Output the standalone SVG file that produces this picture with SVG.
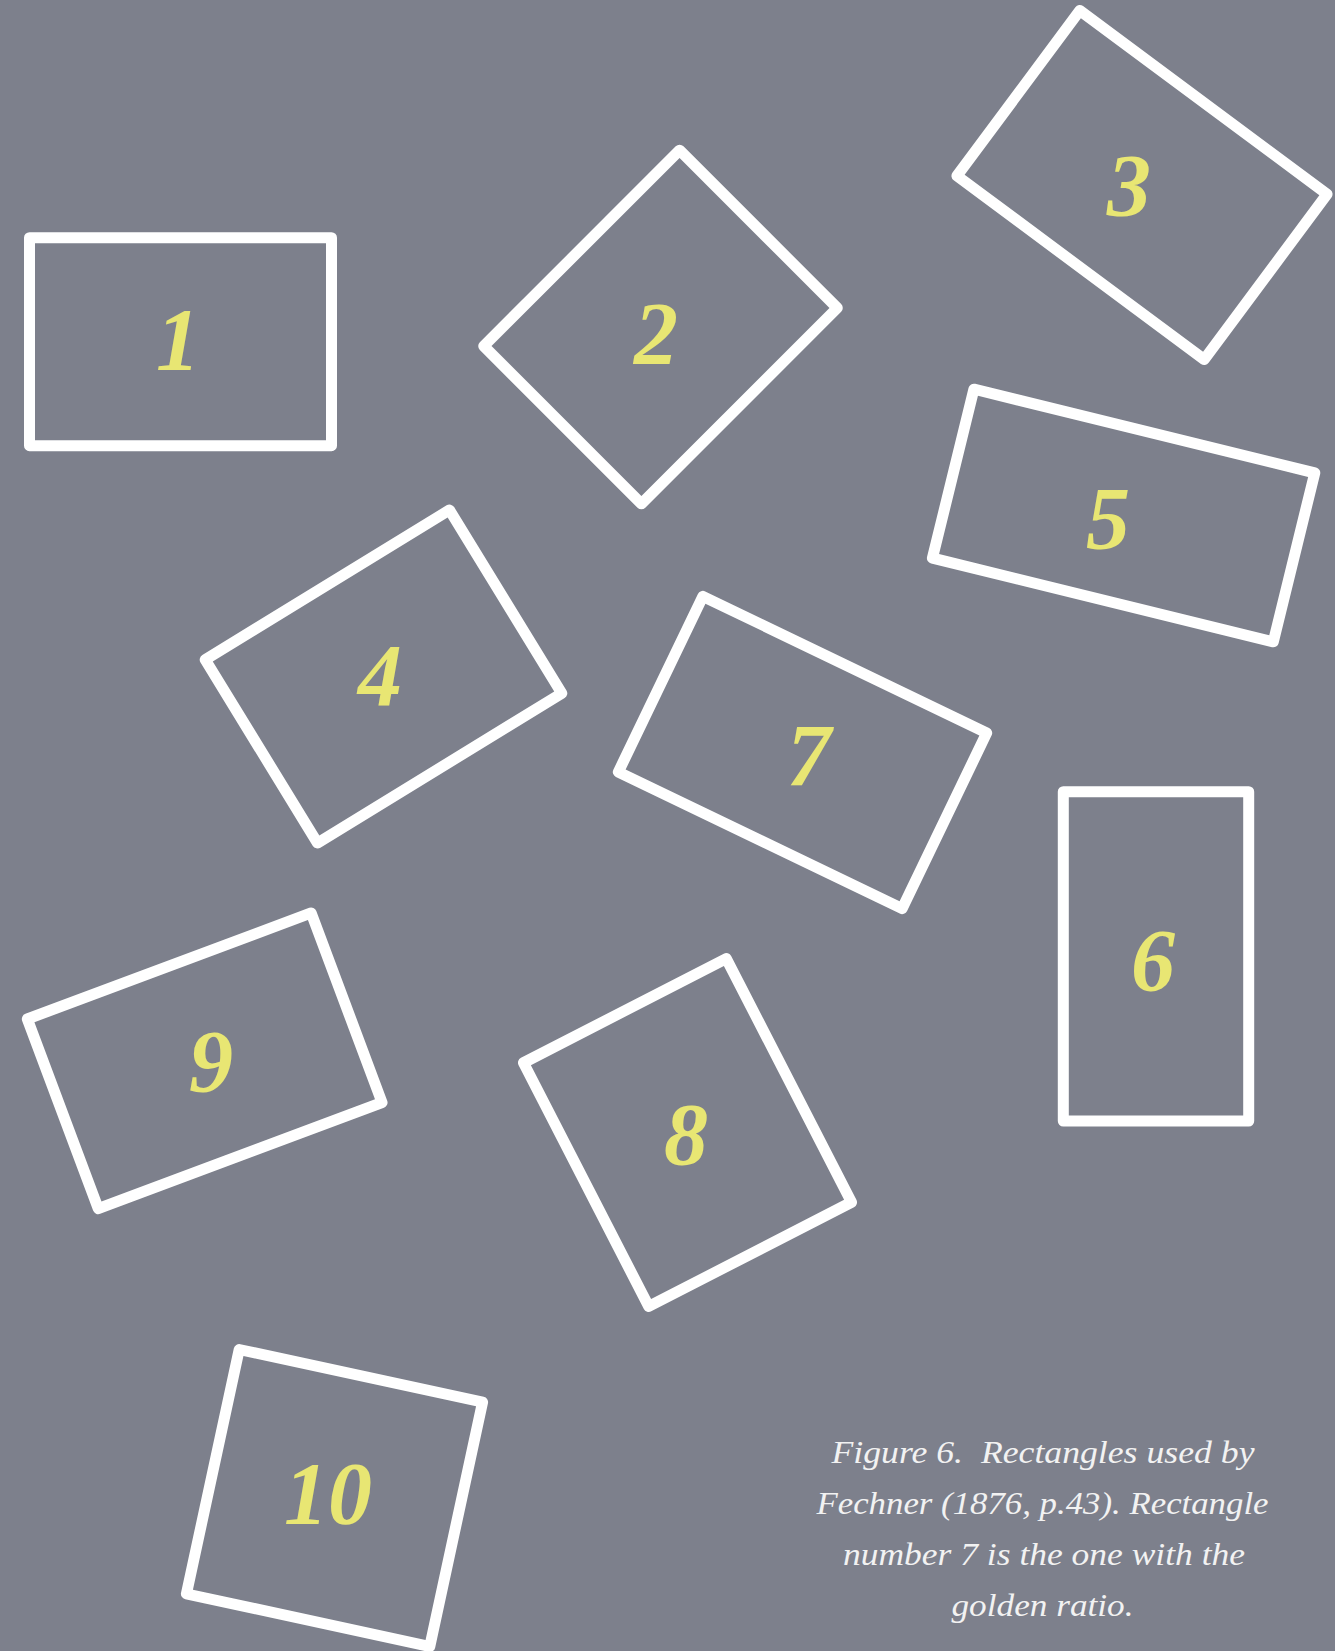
<svg xmlns="http://www.w3.org/2000/svg" width="1335" height="1651" viewBox="0 0 1335 1651">
<style>
.box{fill:none;stroke:#ffffff;stroke-width:11;stroke-linejoin:round}
.num{font-family:"Liberation Serif","Times New Roman",serif;font-weight:bold;font-style:italic;font-size:88px;fill:#e8e673;text-anchor:middle}
.cap{font-family:"Liberation Serif","Times New Roman",serif;font-style:italic;font-size:32px;fill:#f2f2f2;text-anchor:middle;white-space:pre}
</style>
<rect x="0" y="0" width="1335" height="1651" fill="#7d808c"/>
<g id="connectors"/>
<g id="node1">
<rect class="box" x="29.5" y="237.7" width="302" height="208"/>
<text class="num" x="178" y="369">1</text>
</g>
<g id="node2">
<rect class="box" x="-111.5" y="-138.5" width="223" height="277" transform="translate(660.5 327) rotate(45)"/>
<text class="num" x="656" y="363">2</text>
</g>
<g id="node3">
<rect class="box" x="-154" y="-103" width="308" height="206" transform="translate(1142 185) rotate(36.6)"/>
<text class="num" x="1129" y="215">3</text>
</g>
<g id="node4">
<rect class="box" x="-143.25" y="-107.5" width="286.5" height="215" transform="translate(383.5 676.5) rotate(-31.5)"/>
<text class="num" x="380" y="705">4</text>
</g>
<g id="node5">
<rect class="box" x="-175.5" y="-87" width="351" height="174" transform="translate(1123.6 515.5) rotate(13.8)"/>
<text class="num" x="1108" y="548">5</text>
</g>
<g id="node6">
<rect class="box" x="1063.3" y="791.7" width="185.4" height="329.3"/>
<text class="num" x="1153" y="990">6</text>
</g>
<g id="node7">
<rect class="box" x="-157.5" y="-97.5" width="315" height="195" transform="translate(802.5 752.5) rotate(25.7)"/>
<text class="num" x="809" y="785">7</text>
</g>
<g id="node8">
<rect class="box" x="-114" y="-137" width="228" height="274" transform="translate(687.5 1132.5) rotate(-27.2)"/>
<text class="num" x="686" y="1164">8</text>
</g>
<g id="node9">
<rect class="box" x="-151.5" y="-101.25" width="303" height="202.5" transform="translate(204.7 1060.8) rotate(-20.5)"/>
<text class="num" x="211" y="1091">9</text>
</g>
<g id="node10">
<rect class="box" x="-124.5" y="-125" width="249" height="250" transform="translate(334.5 1498) rotate(12.2)"/>
<text class="num" x="328" y="1523">10</text>
</g>
<g id="caption">
<text class="cap" x="1043" y="1463" textLength="423" lengthAdjust="spacingAndGlyphs">Figure 6.  Rectangles used by</text>
<text class="cap" x="1042.5" y="1514" textLength="452" lengthAdjust="spacingAndGlyphs">Fechner (1876, p.43). Rectangle</text>
<text class="cap" x="1044" y="1565" textLength="402" lengthAdjust="spacingAndGlyphs">number 7 is the one with the</text>
<text class="cap" x="1042.5" y="1616" textLength="182" lengthAdjust="spacingAndGlyphs">golden ratio.</text>
</g>
</svg>
